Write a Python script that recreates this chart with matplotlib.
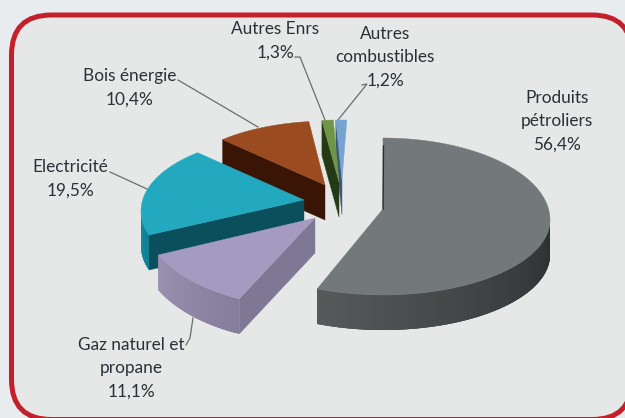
import numpy as np
import matplotlib
matplotlib.use("Agg")
import matplotlib.pyplot as plt
from matplotlib.patches import FancyBboxPatch
from matplotlib.colors import to_rgb

# ---- data
categories = ["Produits\npétroliers", "Gaz naturel et\npropane", "Electricité",
              "Bois énergie", "Autres Enrs", "Autres\ncombustibles"]
values = [56.4, 11.1, 19.5, 10.4, 1.3, 1.2]
value_labels = ["56,4%", "11,1%", "19,5%", "10,4%", "1,3%", "1,2%"]

# ---- styles / layout (pixels)
top_cols = ["#73787a", "#a59bc0", "#22a9c0", "#9a4b1f", "#6f9648", "#76a3cf"]
cut_cols = ["#2a2e30", "#7e7895", "#0c4f5c", "#3a1506", "#233a14", "#3c5a7c"]
rim_a = ["#2b2f31", "#857d9c", "#0f7f93", "#3a1506", "#233a14", "#3c5a7c"]
rim_b = ["#57595a", "#9a90b0", "#0f8ba0", "#3a1506", "#233a14", "#3c5a7c"]
centers = [(383, 220), (307, 215), (291, 211), (329, 184), (339, 182), (342, 180)]
apexes = [(383, 209), (315, 218), (304, 200), (325, 185), (339, 182), (342, 180)]
rx = [167, 165, 150, 150, 140, 145]
ry_up = [82, 92, 74.5, 63, 62, 60]
ry_dn = [75, 92, 74.5, 63, 62, 60]
shift = [0, 1, 8, 1.3, 2, 1.9]
depth = 35
order = [5, 4, 3, 2, 1, 0]
label_pos = [(557, 121), (131, 368), (70, 178.5), (130, 87.5), (275, 40.5), (385, 57)]
leaders = [None,
           [(193, 318), (190, 338), (186, 345)],
           [(110, 172), (147, 189)],
           [(178, 80), (258, 127)],
           [(295, 57), (300, 57), (325, 120)],
           [(362, 85), (367, 84), (338, 120)]]

fig = plt.figure(figsize=(6.25, 4.18), dpi=100, facecolor="#e9ecef")
ax = fig.add_axes([0, 0, 1, 1])
ax.set_xlim(0, 625)
ax.set_ylim(418, 0)
ax.axis("off")

ax.add_patch(FancyBboxPatch((11.5, 15), 620.5, 404.5,
                            boxstyle="round,pad=0,rounding_size=40",
                            fc="#e6e8e7", ec="#c4202c", lw=3.6, zorder=1))


def rim(i, phi):
    p = np.radians(phi)
    c = np.cos(p)
    ry = np.where(c > 0, ry_up[i], ry_dn[i])
    return centers[i][0] + rx[i] * np.sin(p), centers[i][1] - ry * c


total = sum(values)
edges = np.concatenate([[0], np.cumsum(values)]) / total * 360
z = 3
for i in order:
    a0, a1 = edges[i] + shift[i], edges[i + 1] + shift[i]
    phi = np.linspace(a0, a1, 160)
    x, y = rim(i, phi)
    A = apexes[i]
    # cut face (start edge), except the main slice whose face is seen edge-on
    if i != 0:
        ax.fill([A[0], x[0], x[0], A[0]], [A[1], y[0], y[0] + depth, A[1] + depth],
                color=cut_cols[i], lw=0.3, zorder=z)
    # outer wall as a shaded strip, only where it faces the viewer
    lo, hi = max(a0, 90), min(a1, 270)
    if hi > lo:
        ph = np.linspace(lo, hi, 60)
        xs, ys = rim(i, ph)
        ca, cb = np.array(to_rgb(rim_a[i])), np.array(to_rgb(rim_b[i]))
        n = len(ph)
        for k in range(n - 1):
            t = k / (n - 2)
            col = ca + (cb - ca) * t
            e = min(k + 3, n - 1)  # overlap the next bands so no seams show
            idx = np.arange(k, e + 1)
            ax.fill(np.r_[xs[idx], xs[idx][::-1]],
                    np.r_[ys[idx], ys[idx][::-1] + depth],
                    color=col, lw=0, zorder=z)
    # top face
    ax.fill(np.r_[A[0], x], np.r_[A[1], y], color=top_cols[i], lw=0.3, zorder=z + 0.5)
    if i == 0:
        ax.plot([x[0] + 0.5, A[0]], [y[0] + 8, A[1]], color="#2a2e30", lw=1.0, zorder=z + 0.6)
    z += 1

txt = "#2b3038"
for i, (lab, val) in enumerate(zip(categories, value_labels)):
    ax.text(label_pos[i][0], label_pos[i][1], lab + "\n" + val, ha="center", va="center",
            family="Lato", fontsize=12.4, color=txt, linespacing=1.56, zorder=20)
    if leaders[i]:
        lx, ly = zip(*leaders[i])
        ax.plot(lx, ly, color="#6a6e70", lw=0.9, zorder=2)

fig.savefig("out.png", dpi=100, facecolor=fig.get_facecolor())
